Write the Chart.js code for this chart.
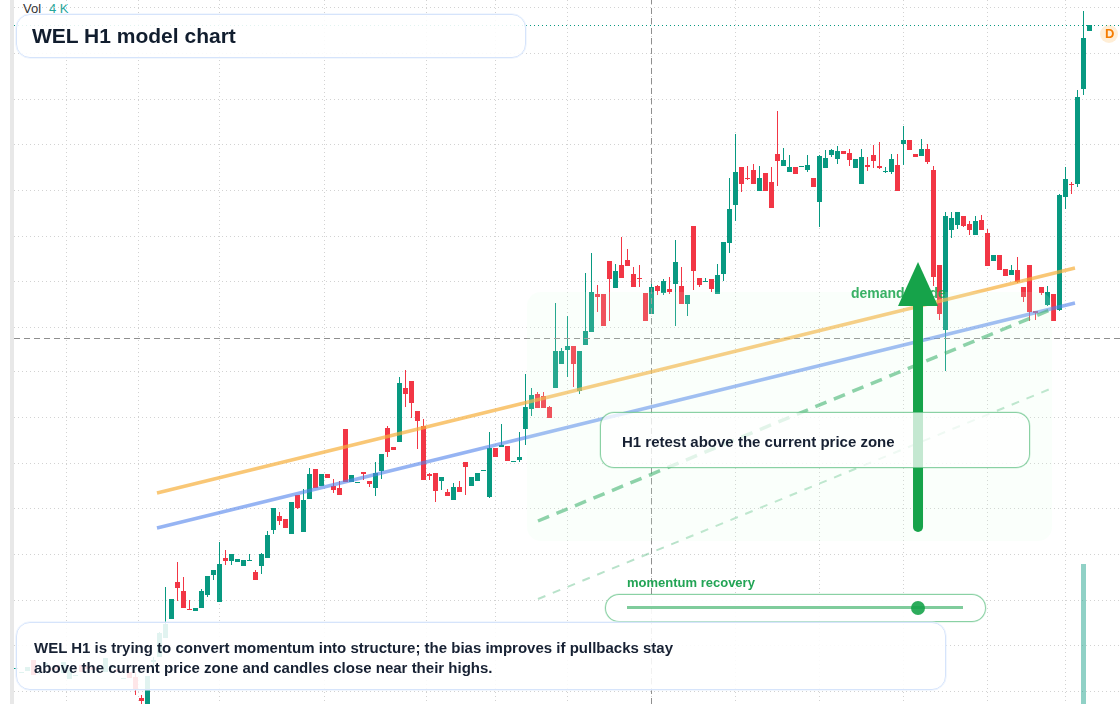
<!DOCTYPE html>
<html><head><meta charset="utf-8">
<script src="https://cdn.jsdelivr.net/npm/chart.js@4/dist/chart.umd.min.js"></script>
<style>
html,body{margin:0;padding:0;background:#fff;width:1120px;height:704px;overflow:hidden;font-family:"Liberation Sans",Arial,sans-serif}
#strip{position:absolute;left:10px;top:0;width:4px;height:704px;background:#e8e8e8}
canvas{position:absolute;left:14px;top:0;z-index:2}
.t{position:absolute;white-space:nowrap}
.box{position:absolute;box-sizing:border-box;border-radius:14px;z-index:3}
.blue{border:1px solid #d6e4fb;box-shadow:0 0 0 .5px #e6effd;background:rgba(255,255,255,.88)}
.green{border:1px solid rgba(22,163,74,.5);box-shadow:0 0 0 .5px rgba(22,163,74,.2);background:rgba(255,255,255,.75)}
</style></head><body>
<div id="strip"></div>
<div class="t" style="left:23px;top:1px;font-size:13px;line-height:15px;color:#333;z-index:1">Vol</div>
<div class="t" style="left:49px;top:1px;font-size:13px;line-height:15px;color:#26a69a;z-index:1">4 K</div>
<canvas id="c" width="1106" height="704" style="width:1106px;height:704px"></canvas>
<div class="t" id="dz" style="left:851px;top:285px;font-size:14px;line-height:17px;font-weight:bold;color:rgba(22,163,74,.85);z-index:2">demand guide</div>
<canvas id="a" width="1106" height="704" style="width:1106px;height:704px"></canvas>
<div class="box blue" style="left:16px;top:14px;width:510px;height:44px"></div>
<div class="t" style="left:32px;top:22px;font-size:21px;line-height:28px;font-weight:bold;color:#111d2e;z-index:4">WEL H1 model chart</div>
<div class="box" style="left:1100px;top:25px;width:18px;height:18px;border-radius:50%;background:rgba(255,152,0,.16)"></div>
<div class="t" style="left:1105px;top:26px;font-size:13px;line-height:16px;font-weight:bold;color:#f57c00;z-index:4">D</div>
<div class="box green" style="left:600px;top:412px;width:430px;height:56px"></div>
<div class="t" style="left:622px;top:432px;font-size:15px;line-height:20px;font-weight:bold;color:#172133;z-index:4">H1 retest above the current price zone</div>
<div class="t" style="left:627px;top:575px;font-size:13px;line-height:16px;font-weight:bold;color:#22a455;z-index:4">momentum recovery</div>
<div class="box green" style="left:605px;top:594px;width:381px;height:28px;background:rgba(255,255,255,.92)"></div>
<div class="box" style="left:627px;top:606px;width:336px;height:3px;border-radius:0;background:rgba(22,163,74,.55);z-index:4"></div>
<div class="box" style="left:911px;top:601px;width:14px;height:14px;border-radius:50%;background:rgba(22,163,74,.9);z-index:4"></div>
<div class="box blue" style="left:16px;top:622px;width:930px;height:68px"></div>
<div class="t" style="left:34px;top:638px;font-size:15px;line-height:20px;font-weight:bold;color:#172133;z-index:4">WEL H1 is trying to convert momentum into structure; the bias improves if pullbacks stay<br>above the current price zone and candles close near their highs.</div>
<script>
const firstIndex = -3;
const opens = [35,31,33,44,31,38,36,39,31,25,28,39,38,37,34,32,36,35,25,32,27,6,-6,42,47,66,85,122,113,95,93,96,109,129,102,146,143,142,138,143,132,138,146,174,188,185,170,209,172,205,235,218,230,218,216,275,222,221,232,223,216,233,276,257,262,316,323,293,278,230,231,223,212,204,217,242,218,223,233,207,256,257,258,242,244,275,295,310,308,297,316,340,354,358,313,359,372,410,410,443,416,439,444,430,426,411,390,418,411,415,420,418,400,478,426,422,425,410,430,461,499,537,526,534,513,531,522,550,538,532,537,537,534,526,502,536,549,545,553,551,536,520,539,549,538,532,532,539,560,564,550,548,555,534,439,374,474,479,488,480,469,484,471,443,449,435,429,434,417,439,393,417,399,410,394,507,520,520,615,673];
const closes = [36,32,37,29,32,41,34,34,42,34,29,32,35,34,36,46,38,32,26,26,14,3,28,44,71,80,105,116,96,94,96,113,128,134,140,143,150,145,144,144,124,150,169,196,183,176,202,196,204,230,216,230,226,214,209,222,229,222,230,220,231,250,252,254,321,310,301,283,224,228,213,227,208,217,212,237,227,231,234,256,247,259,243,243,247,297,309,296,296,286,353,353,358,340,353,373,412,407,378,425,433,426,438,417,425,383,417,413,423,412,442,400,409,433,419,423,415,429,462,495,532,520,525,520,526,513,496,543,544,537,530,538,539,517,548,546,554,553,550,544,545,547,537,543,536,533,545,513,564,554,547,555,542,427,390,488,486,492,478,474,483,474,438,449,434,428,434,422,407,392,391,411,412,383,509,525,519,607,666,679];
const highs = [36,32,37,44,33,42,36,39,42,34,29,39,38,37,36,46,38,35,26,32,32,9,28,47,72,117,105,142,127,104,96,115,128,134,162,154,150,145,144,150,134,151,173,196,192,185,202,209,215,236,235,230,230,225,223,275,229,222,232,223,242,250,278,257,327,334,323,293,285,231,231,227,215,221,223,242,227,231,234,272,256,280,258,243,272,330,316,312,312,298,401,356,388,358,353,431,451,419,410,443,440,467,455,437,439,411,421,419,425,427,464,437,409,478,426,426,425,440,462,526,570,537,538,540,538,531,537,593,556,549,537,538,549,526,549,554,555,558,553,555,545,555,547,559,562,537,550,550,578,564,550,565,560,538,439,492,492,492,488,483,488,489,475,449,449,435,439,447,417,439,393,417,418,410,510,537,522,614,693,679];
const lows = [35,31,33,29,30,37,34,34,31,25,28,32,35,34,34,32,36,32,25,26,9,0,-6,34,47,66,85,103,96,94,93,96,107,124,102,139,139,142,138,143,124,130,146,170,179,176,170,195,172,205,216,218,226,211,209,222,222,221,224,217,208,225,247,254,262,297,286,255,224,224,202,214,208,204,212,209,218,223,233,206,247,257,243,242,242,259,288,296,296,286,316,340,327,317,310,359,372,392,378,383,416,426,438,417,417,383,390,409,409,410,378,400,388,414,417,422,412,410,423,451,483,512,524,520,513,513,496,518,538,532,530,537,532,517,477,536,547,540,550,538,536,520,533,536,535,531,530,513,539,554,547,548,540,418,384,333,466,475,477,469,469,474,438,443,434,428,429,421,402,383,384,409,398,383,393,495,510,517,609,673];
const volIndex = [175];
const volValues = [140];
const gridXIndex = [0,11,24,38,59,72,82,96,110,124,138,152,166,178];
const gridYValues = [696,651,605,560,514,468,423,377,332,287,241,196,150,104,59,13];
const xRange = [-3.25, 181.0833];
const yRange = [0, 704];
const orangeX = [20.58,173.58], orangeY = [211,436];
const blueX = [20.58,173.58], blueY = [176,401];
const greenX = [84.08,169.42], greenY = [183,394];
const paleX = [84.08,169.42], paleY = [105,315];
const crossX = 103, crossY = 365.5, lastPrice = 678.5;
const zoneX = [82.25,169.75], zoneY = [163,412];
const arrowX = 147.42, arrowTipY = 442, arrowHeadY = 398, arrowTailY = 172;

const UP='#089981', DOWN='#F23645';
const idx = opens.map((_,k)=>k+firstIndex);
const col = opens.map((o,k)=>closes[k]>=o?UP:DOWN);
const line=(xs,ys,color,width,dash,order)=>({type:'line',data:xs.map((x,k)=>({x,y:ys[k]})),borderColor:color,borderWidth:width,borderDash:dash||[],pointRadius:0,fill:false,tension:0,order:order||0,borderCapStyle:'butt'});
const zonePlugin={id:'zone',afterDatasetsDraw(ch){
  const {ctx,scales:{x,y}}=ch;
  ctx.save();
  ctx.fillStyle='rgba(220,252,231,0.15)';
  ctx.beginPath();
  ctx.roundRect(x.getPixelForValue(zoneX[0]),y.getPixelForValue(zoneY[1]),x.getPixelForValue(zoneX[1])-x.getPixelForValue(zoneX[0]),y.getPixelForValue(zoneY[0])-y.getPixelForValue(zoneY[1]),14);
  ctx.fill();
  ctx.restore();
}};
const arrowPlugin={id:'arrow',afterDatasetsDraw(ch){
  const {ctx,scales:{x,y}}=ch;
  const ax=x.getPixelForValue(arrowX),tip=y.getPixelForValue(arrowTipY),hd=y.getPixelForValue(arrowHeadY),tl=y.getPixelForValue(arrowTailY);
  ctx.save();
  ctx.fillStyle='#16a34a';
  ctx.beginPath();ctx.moveTo(ax,tip);ctx.lineTo(ax+20,hd);ctx.lineTo(ax-20,hd);ctx.closePath();ctx.fill();
  ctx.beginPath();ctx.roundRect(ax-5,hd-1,10,tl-hd+1,[0,0,5,5]);ctx.fill();
  ctx.restore();
}};
const axes=(grid)=>({
  x:{type:'linear',min:xRange[0],max:xRange[1],offset:false,display:grid?true:false,
    afterBuildTicks(a){a.ticks=gridXIndex.map(value=>({value}))},
    afterFit(a){a.height=0},
    ticks:{display:false},grid:{color:'#d2d2d2',drawTicks:false},border:{display:false,dash:[1,3]}},
  y:{type:'linear',min:yRange[0],max:yRange[1],display:grid?true:false,
    afterBuildTicks(a){a.ticks=gridYValues.map(value=>({value}))},
    afterFit(a){a.width=0},
    ticks:{display:false},grid:{color:'#d2d2d2',drawTicks:false},border:{display:false,dash:[1,3]}}
});
const base={responsive:false,animation:false,devicePixelRatio:1,layout:{padding:0},plugins:{legend:{display:false},tooltip:{enabled:false}}};
new Chart(document.getElementById('c'),{
  data:{datasets:[
    {type:'bar',grouped:false,order:5,data:idx.map((x,k)=>({x,y:[lows[k],highs[k]]})),backgroundColor:col,barThickness:1,inflateAmount:0,borderWidth:0},
    {type:'bar',grouped:false,order:4,data:idx.map((x,k)=>({x,y:[opens[k],closes[k]]})),backgroundColor:col,barThickness:5,inflateAmount:0,borderWidth:0},
    {type:'bar',grouped:false,order:3,data:volIndex.map((x,k)=>({x,y:[-10,volValues[k]]})),backgroundColor:'rgba(8,153,129,.45)',barThickness:5,inflateAmount:0,borderWidth:0},
    line(xRange,[lastPrice,lastPrice],UP,1,[1,3],2),
    line([crossX,crossX],yRange,'#8f8f8f',1,[6,4],2),
    line(xRange,[crossY,crossY],'#8f8f8f',1,[6,4],2),
    line(paleX,paleY,'rgba(34,165,90,.32)',2,[8,8],1),
    line(greenX,greenY,'rgba(34,165,90,.58)',3.5,[12,8],1),
    line(blueX,blueY,'rgba(80,130,235,.6)',3.5,null,1),
    line(orangeX,orangeY,'rgba(247,175,60,.7)',3.5,null,0)
  ]},
  options:{...base,scales:axes(true)},
  plugins:[zonePlugin]
});
new Chart(document.getElementById('a'),{
  data:{datasets:[{type:'line',data:[],pointRadius:0}]},
  options:{...base,scales:axes(false)},
  plugins:[arrowPlugin]
});
</script>
</body></html>
